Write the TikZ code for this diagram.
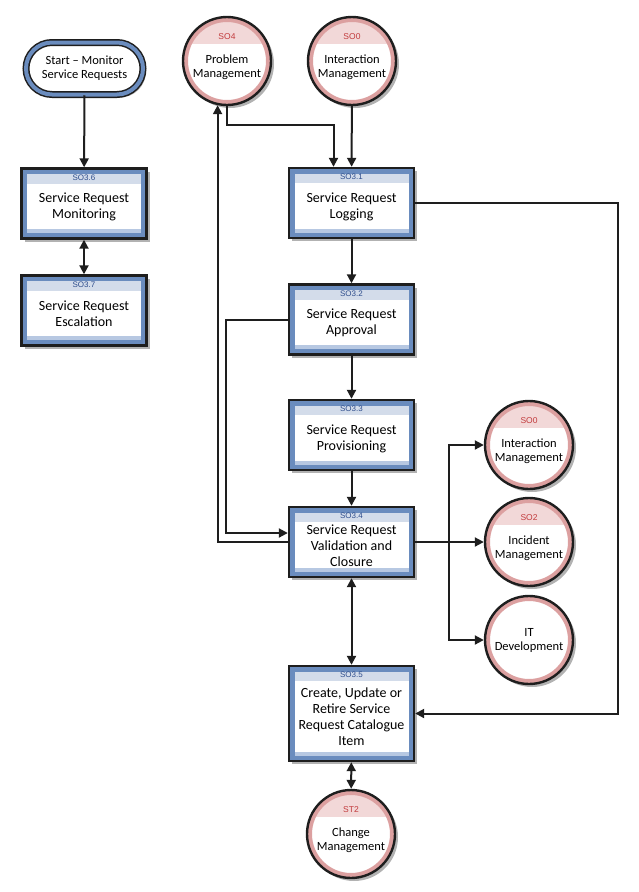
\documentclass[tikz,border=0pt]{standalone}
\usepackage{fontspec}
\setmainfont{Carlito}
\newfontfamily\codefont{Liberation Sans}
\usetikzlibrary{shapes.misc,shadows,arrows.meta}
\definecolor{frameblue}{HTML}{6A8CBE}
\definecolor{hdrblue}{HTML}{D3DCEA}
\definecolor{botblue}{HTML}{B7C8E2}
\definecolor{codeblue}{HTML}{2E4D8C}
\definecolor{ringpink}{HTML}{DCA0A0}
\definecolor{bandpink}{HTML}{F2D8D8}
\definecolor{codered}{HTML}{C23B3D}
\definecolor{linegray}{HTML}{1E1E1E}
\newcommand\bxs{\rule{0pt}{17pt}}
\newcommand\cxs{\rule{0pt}{20.5pt}}
\tikzset{
  boxtxt/.style={font=\fontsize{14}{16}\selectfont, align=center, text=black},
  circtxt/.style={font=\fontsize{12.5}{14}\selectfont, align=center, text=black},
  shd/.style={drop shadow={shadow xshift=3pt, shadow yshift=-3pt, fill=black, opacity=0.3}},
  pbox/.style={boxtxt, rectangle, minimum width=125pt, minimum height=70pt, inner sep=2pt,
    fill=white, draw=linegray, line width=2.4pt, shd,
    path picture={
      \fill[frameblue] (path picture bounding box.south west) rectangle (path picture bounding box.north east);
      \fill[white] ([xshift=5.5pt,yshift=5.5pt]path picture bounding box.south west) rectangle ([xshift=-5.5pt,yshift=-5.5pt]path picture bounding box.north east);
      \fill[hdrblue] ([xshift=5.5pt,yshift=-5.5pt]path picture bounding box.north west) rectangle ([xshift=-5.5pt,yshift=-15pt]path picture bounding box.north east);
      \fill[botblue] ([xshift=5.5pt,yshift=5.5pt]path picture bounding box.south west) rectangle ([xshift=-5.5pt,yshift=9.5pt]path picture bounding box.south east);
    },
    label={[font=\codefont\fontsize{8}{9}\selectfont, text=codeblue, anchor=north, inner sep=0pt, yshift=-7pt]north:#1}},
  cnode/.style={circtxt, circle, minimum size=88pt, inner sep=0pt, fill=white, draw=linegray, line width=2.4pt, shd,
    path picture={
      \fill[bandpink] (path picture bounding box.north west) rectangle ([yshift=17pt]path picture bounding box.east);
      \draw[ringpink, line width=10pt] (path picture bounding box.center) circle[radius=44pt];
    },
    label={[font=\codefont\fontsize{8.5}{9}\selectfont, text=codered, anchor=north, inner sep=0pt, yshift=-17.5pt]north:#1}},
  cplain/.style={circtxt, circle, minimum size=88pt, inner sep=0pt, fill=white, draw=linegray, line width=2.4pt, shd,
    path picture={
      \draw[ringpink, line width=10pt] (path picture bounding box.center) circle[radius=44pt];
    }},
  startnode/.style={circtxt, rounded rectangle, minimum width=121pt, minimum height=52pt, inner sep=2pt,
    fill=white, draw=linegray, line width=1.5pt, double=frameblue, double distance=4pt, shd},
  arr/.style={draw=linegray, line width=2pt, -{Triangle[length=9pt,width=9pt]}},
  darr/.style={draw=linegray, line width=2pt, {Triangle[length=9pt,width=9pt]}-{Triangle[length=9pt,width=9pt]}},
}
\begin{document}
\begin{tikzpicture}[x=1pt,y=-1pt]
\useasboundingbox (0,0) rectangle (639,892);

\node[startnode] (start) at (84.5,68.5) {Start -- Monitor\\Service Requests};
\node[pbox=SO3.6] (n36) at (84,203.5) {\bxs Service Request\\Monitoring};
\node[pbox=SO3.7] (n37) at (84,310.5) {\bxs Service Request\\Escalation};

\node[cnode=SO4] (pm) at (227,61) {\cxs Problem\\Management};
\node[cnode=SO0] (im1) at (352,61) {\cxs Interaction\\Management};

\node[pbox=SO3.1] (n31) at (351.5,203) {\bxs Service Request\\Logging};
\node[pbox=SO3.2] (n32) at (351.5,319.5) {\bxs Service Request\\Approval};
\node[pbox=SO3.3] (n33) at (351.5,435) {\bxs Service Request\\Provisioning};
\node[pbox=SO3.4] (n34) at (351.5,542) {\bxs Service Request\\Validation and\\Closure};
\node[pbox=SO3.5, minimum height=95pt] (n35) at (351.5,713.5) {\bxs Create, Update or\\Retire Service\\Request Catalogue\\Item};

\node[cnode=SO0] (im2) at (529,445) {\cxs Interaction\\Management};
\node[cnode=SO2] (inc) at (529,542) {\cxs Incident\\Management};
\node[cplain] (itd) at (529,640) {IT\\Development};
\node[cnode=ST2] (chg) at (351,834) {\cxs Change\\Management};

\coordinate (rr) at (618,203);
\coordinate (br) at (449,542);

\draw[arr] (start) -- (n36);
\draw[darr] (n36) -- (n37);
\draw[arr] (pm.south) -- ++(0,19) -| ([xshift=-18pt]n31.north);
\draw[arr] (im1) -- (n31);
\draw[arr] (n31) -- (n32);
\draw[arr] (n32) -- (n33);
\draw[arr] (n33) -- (n34);
\draw[darr] (n34) -- (n35);
\draw[darr] (n35) -- (chg);
\draw[arr] (n32.west) -| (226,533) -- ([yshift=9pt]n34.west);
\draw[arr] (n34.west) -| (pm.258);
\draw[arr] (n31.east) -- (rr) |- (n35.east);
\draw[arr] (n34.east) -- (inc.west);
\draw[arr] (br) |- (im2.west);
\draw[arr] (br) |- (itd.west);
\end{tikzpicture}
\end{document}
